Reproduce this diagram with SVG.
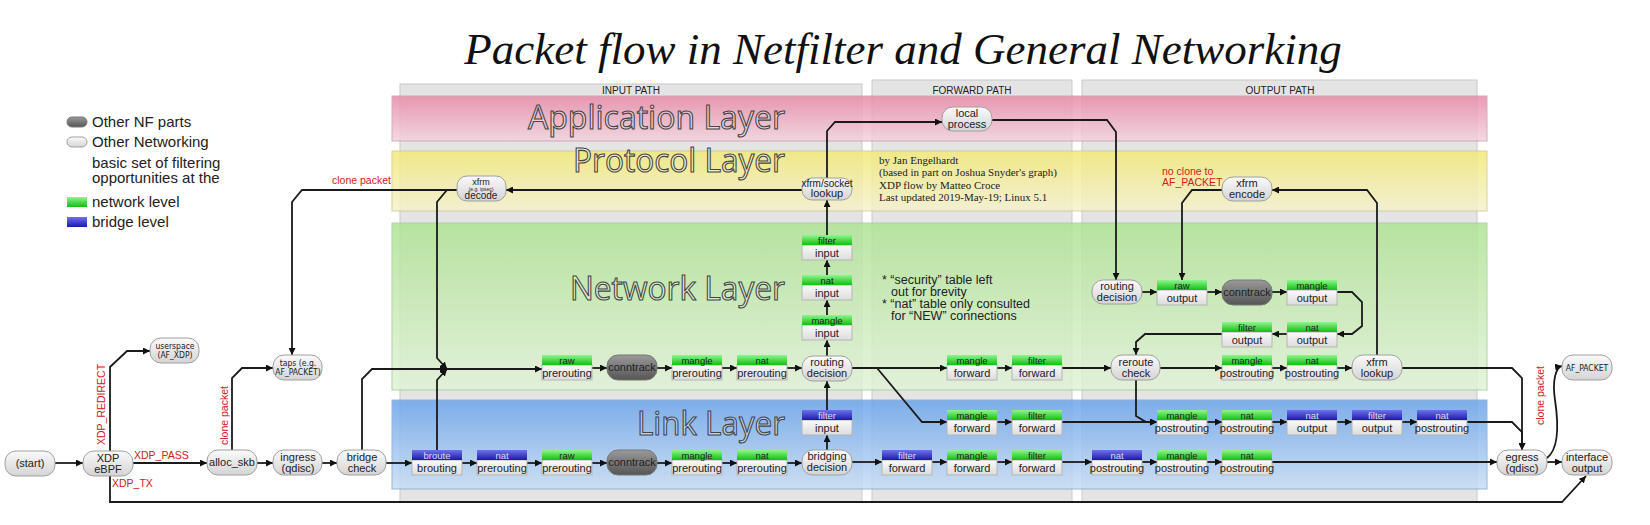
<svg xmlns="http://www.w3.org/2000/svg" width="1650" height="525" viewBox="0 0 1650 525">
<defs>
<linearGradient id="gPill" x1="0" y1="0" x2="0" y2="1"><stop offset="0" stop-color="#fafafa"/><stop offset="1" stop-color="#d4d4d4"/></linearGradient>
<linearGradient id="gDark" x1="0" y1="0" x2="0" y2="1"><stop offset="0" stop-color="#9a9a9a"/><stop offset="1" stop-color="#555"/></linearGradient>
<linearGradient id="gGreen" x1="0" y1="0" x2="0" y2="1"><stop offset="0" stop-color="#8ff58f"/><stop offset="1" stop-color="#10c010"/></linearGradient>
<linearGradient id="gBlue" x1="0" y1="0" x2="0" y2="1"><stop offset="0" stop-color="#7070f0"/><stop offset="1" stop-color="#1a1aa8"/></linearGradient>
<linearGradient id="gBody" x1="0" y1="0" x2="0" y2="1"><stop offset="0" stop-color="#fafafa"/><stop offset="1" stop-color="#dcdcdc"/></linearGradient>
<linearGradient id="gApp" x1="0" y1="0" x2="0" y2="1"><stop offset="0" stop-color="#e98aa8"/><stop offset="1" stop-color="#f2d3de"/></linearGradient>
<linearGradient id="gProto" x1="0" y1="0" x2="0" y2="1"><stop offset="0" stop-color="#f3ea78"/><stop offset="1" stop-color="#f5f2cf"/></linearGradient>
<linearGradient id="gNet" x1="0" y1="0" x2="0" y2="1"><stop offset="0" stop-color="#afe394"/><stop offset="1" stop-color="#e2f3d8"/></linearGradient>
<linearGradient id="gLink" x1="0" y1="0" x2="0" y2="1"><stop offset="0" stop-color="#6ba4ea"/><stop offset="1" stop-color="#c8def5"/></linearGradient>
<marker id="ar" viewBox="0 0 10 10" refX="10" refY="5" markerWidth="7" markerHeight="7" orient="auto" markerUnits="userSpaceOnUse"><path d="M0,0 L10,5 L0,10 z" fill="#111"/></marker>
</defs>
<style>
text{font-family:"Liberation Sans",Arial,sans-serif;fill:#222}
.pill{fill:url(#gPill);stroke:#a0a0a0;stroke-width:1}
.dark{fill:url(#gDark);stroke:#777;stroke-width:1}
.hg{fill:url(#gGreen)}
.hb{fill:url(#gBlue)}
.body{fill:url(#gBody);stroke:#b5b5b5;stroke-width:1}
.n{font-size:11px;text-anchor:middle}
.h{font-size:9.5px;text-anchor:middle}
.hbt{font-size:9.5px;text-anchor:middle;fill:#dde}
.sm{font-size:8.5px;text-anchor:middle;font-family:"Liberation Sans Narrow","DejaVu Sans Condensed",sans-serif}
.red{fill:#d02020;font-size:10.5px}
.lay{font-family:"Open Sans","DejaVu Sans",sans-serif;font-size:33px;fill:rgba(255,255,255,0.35);stroke:#444;stroke-width:1.1;text-anchor:end}
.path{font-size:10px;text-anchor:middle}
.c{fill:none;stroke:#1a1a1a;stroke-width:1.8;marker-end:url(#ar)}
.cred{font-family:"Liberation Serif",serif;font-size:11px;fill:#222}
.note{font-size:12.5px}
.leg{font-size:15px}
</style>
<rect width="1650" height="525" fill="#fff"/>
<text x="903" y="64" text-anchor="middle" style="font-family:'Liberation Serif',serif;font-style:italic;font-size:45px;fill:#111">Packet flow in Netfilter and General Networking</text>

<g id="panels">
<rect x="400" y="84" width="462" height="418" fill="#e4e4e4" stroke="#c8c8c8"/>
<rect x="872" y="80" width="200" height="422" fill="#e4e4e4" stroke="#c8c8c8"/>
<rect x="1082" y="80" width="395" height="422" fill="#e4e4e4" stroke="#c8c8c8"/>
<text class="path" x="631" y="94">INPUT PATH</text>
<text class="path" x="972" y="94">FORWARD PATH</text>
<text class="path" x="1280" y="94">OUTPUT PATH</text>
<rect x="392" y="96" width="1095" height="45" fill="url(#gApp)" opacity="0.85" stroke="#c8a0b0"/>
<rect x="392" y="151" width="1095" height="60" fill="url(#gProto)" opacity="0.85" stroke="#d0ca90"/>
<rect x="392" y="223" width="1095" height="167" fill="url(#gNet)" opacity="0.85" stroke="#a8cc98"/>
<rect x="392" y="400" width="1095" height="89" fill="url(#gLink)" opacity="0.85" stroke="#88a8d0"/>
<text class="lay" x="785" y="129" textLength="257" lengthAdjust="spacingAndGlyphs">Application Layer</text>
<text class="lay" x="785" y="172" textLength="212" lengthAdjust="spacingAndGlyphs">Protocol Layer</text>
<text class="lay" x="785" y="300" textLength="215" lengthAdjust="spacingAndGlyphs">Network Layer</text>
<text class="lay" x="785" y="435" textLength="148" lengthAdjust="spacingAndGlyphs">Link Layer</text>
</g>

<g id="legend">
<rect x="67" y="117" width="20" height="10" rx="5" class="dark"/>
<text class="leg" x="92" y="127">Other NF parts</text>
<rect x="67" y="137" width="20" height="10" rx="5" class="pill"/>
<text class="leg" x="92" y="147">Other Networking</text>
<text class="leg" x="92" y="168">basic set of filtering</text>
<text class="leg" x="92" y="183">opportunities at the</text>
<rect x="67" y="197" width="20" height="10" class="hg"/>
<text class="leg" x="92" y="207">network level</text>
<rect x="67" y="217" width="20" height="10" class="hb"/>
<text class="leg" x="92" y="227">bridge level</text>
</g>

<g id="credits">
<text class="cred" x="879" y="164">by Jan Engelhardt</text>
<text class="cred" x="879" y="176">(based in part on Joshua Snyder's graph)</text>
<text class="cred" x="879" y="189">XDP flow by Matteo Croce</text>
<text class="cred" x="879" y="201">Last updated 2019-May-19; Linux 5.1</text>
<text class="note" x="882" y="284">* “security” table left</text>
<text class="note" x="891" y="296">out for brevity</text>
<text class="note" x="882" y="308">* “nat” table only consulted</text>
<text class="note" x="891" y="320">for “NEW” connections</text>
</g>

<g id="connectors">
<path class="c" d="M55,463 H83"/>
<path class="c" d="M133,463 H207"/>
<path class="c" d="M110,451 V367 L127,351 H150"/>
<path class="c" d="M110,476 V502 H1562 L1586,476"/>
<path class="c" d="M257,463 H273"/>
<path class="c" d="M232,450 V378 L242,368 H273"/>
<path class="c" d="M322,463 H337"/>
<path class="c" d="M386,463 H412"/>
<path class="c" d="M362,450 V379 L372,369 H447"/>
<path class="c" d="M437,450 V380 L447,369"/>
<path class="c" d="M457,190 H447 L437,202 V358 L447,369"/>
<path class="c" d="M447,190 H302 L292,202 V355"/>
<path class="c" d="M447,369 H542"/>
<path class="c" d="M592,368 H607"/>
<path class="c" d="M657,368 H672"/>
<path class="c" d="M722,368 H737"/>
<path class="c" d="M787,368 H802"/>
<path class="c" d="M462,463 H477"/>
<path class="c" d="M527,463 H542"/>
<path class="c" d="M592,463 H607"/>
<path class="c" d="M657,463 H672"/>
<path class="c" d="M722,463 H737"/>
<path class="c" d="M787,463 H802"/>
<path class="c" d="M827,357 V340"/>
<path class="c" d="M827,315 V300"/>
<path class="c" d="M827,275 V260"/>
<path class="c" d="M827,235 V200"/>
<path class="c" d="M802,190 H506"/>
<path class="c" d="M827,178 V131 L835,122 H942"/>
<path class="c" d="M992,120 H1107 L1116,132 V280"/>
<path class="c" d="M852,368 H947"/>
<path class="c" d="M877,368 L922,422 H947"/>
<path class="c" d="M997,368 H1012"/>
<path class="c" d="M1062,368 H1111"/>
<path class="c" d="M997,422 H1012"/>
<path class="c" d="M1062,422 H1157"/>
<path class="c" d="M827,450 V435"/>
<path class="c" d="M827,410 V381"/>
<path class="c" d="M852,462 H882"/>
<path class="c" d="M932,462 H947"/>
<path class="c" d="M997,462 H1012"/>
<path class="c" d="M1062,462 H1092"/>
<path class="c" d="M1142,462 H1157"/>
<path class="c" d="M1207,462 H1222"/>
<path class="c" d="M1272,462 H1497"/>
<path class="c" d="M1142,292 H1157"/>
<path class="c" d="M1207,292 H1222"/>
<path class="c" d="M1272,292 H1287"/>
<path class="c" d="M1337,292 H1352 L1362,302 V326 L1352,334 H1337"/>
<path class="c" d="M1287,334 H1272"/>
<path class="c" d="M1222,334 H1145 L1136,342 V355"/>
<path class="c" d="M1160,368 H1222"/>
<path class="c" d="M1272,368 H1287"/>
<path class="c" d="M1337,368 H1352"/>
<path class="c" d="M1136,380 V416 L1146,422 H1157"/>
<path class="c" d="M1207,422 H1222"/>
<path class="c" d="M1272,422 H1287"/>
<path class="c" d="M1337,422 H1352"/>
<path class="c" d="M1402,422 H1417"/>
<path class="c" d="M1467,422 H1512 L1522,432 V450"/>
<path class="c" d="M1402,368 H1512 L1522,378 V450"/>
<path class="c" d="M1377,355 V203 L1367,190 H1272"/>
<path class="c" d="M1222,190 H1192 L1182,203 V280"/>
<path class="c" d="M1547,462 H1562"/>
<path class="c" d="M1547,458 C1560,448 1558,420 1555,400 C1552,380 1556,367 1562,366"/>
<text class="red" x="134" y="459">XDP_PASS</text>
<text class="red" x="112" y="487">XDP_TX</text>
<text class="red" transform="translate(105,445) rotate(-90)">XDP_REDIRECT</text>
<text class="red" transform="translate(228,445) rotate(-90)">clone packet</text>
<text class="red" x="332" y="184">clone packet</text>
<text class="red" transform="translate(1544,425) rotate(-90)">clone packet</text>
<text class="red" x="1162" y="175">no clone to</text>
<text class="red" x="1162" y="186">AF_PACKET</text>
</g>

<g id="start"><rect x="5" y="451" width="50" height="25" rx="11" class="pill"/><text class="n" x="30" y="467">(start)</text></g>
<g id="xdp"><rect x="83" y="451" width="50" height="25" rx="11" class="pill"/><text class="n" x="108" y="462">XDP</text><text class="n" x="108" y="473">eBPF</text></g>
<g id="userspace"><rect x="150" y="338" width="49" height="25" rx="11" class="pill"/><text class="sm" x="175" y="349">userspace</text><text class="sm" x="175" y="358">(AF_XDP)</text></g>
<g id="alloc"><rect x="207" y="450" width="50" height="25" rx="11" class="pill"/><text class="n" x="232" y="466">alloc_skb</text></g>
<g id="ingress"><rect x="273" y="450" width="49" height="25" rx="11" class="pill"/><text class="n" x="298" y="461">ingress</text><text class="n" x="298" y="472">(qdisc)</text></g>
<g id="taps"><rect x="273" y="355" width="49" height="25" rx="11" class="pill"/><text class="sm" x="298" y="366">taps (e.g.</text><text class="sm" x="298" y="375">AF_PACKET)</text></g>
<g id="bridgecheck"><rect x="337" y="450" width="49" height="25" rx="11" class="pill"/><text class="n" x="362" y="461">bridge</text><text class="n" x="362" y="472">check</text></g>
<g id="xfrmdecode"><rect x="457" y="176" width="49" height="25" rx="10" class="pill"/><text x="481" y="185" text-anchor="middle" style="font-size:9px">xfrm</text><text x="481" y="191" text-anchor="middle" style="font-size:5px">(e.g. ipsec)</text><text x="481" y="199" text-anchor="middle" style="font-size:10px">decode</text></g>
<g id="conntrack1"><rect x="607" y="355" width="50" height="25" rx="11" class="dark"/><text class="n" x="632" y="371">conntrack</text></g>
<g id="conntrack2"><rect x="607" y="450" width="50" height="25" rx="11" class="dark"/><text class="n" x="632" y="466">conntrack</text></g>
<g id="routing1"><rect x="802" y="356" width="50" height="25" rx="11" class="pill"/><text class="n" x="827" y="366">routing</text><text class="n" x="827" y="377">decision</text></g>
<g id="bridging"><rect x="802" y="450" width="50" height="25" rx="11" class="pill"/><text class="n" x="827" y="460">bridging</text><text class="n" x="827" y="471">decision</text></g>
<g id="socklookup"><rect x="802" y="178" width="50" height="22" rx="10" class="pill"/><text class="n" x="827" y="187" style="font-size:10px">xfrm/socket</text><text class="n" x="827" y="197">lookup</text></g>
<g id="localproc"><rect x="942" y="107" width="50" height="24" rx="11" class="pill"/><text class="n" x="967" y="117">local</text><text class="n" x="967" y="128">process</text></g>
<g id="routing2"><rect x="1092" y="280" width="50" height="24" rx="11" class="pill"/><text class="n" x="1117" y="290">routing</text><text class="n" x="1117" y="301">decision</text></g>
<g id="conntrack3"><rect x="1222" y="280" width="50" height="25" rx="11" class="dark"/><text class="n" x="1247" y="296">conntrack</text></g>
<g id="xfrmencode"><rect x="1222" y="177" width="50" height="24" rx="11" class="pill"/><text class="n" x="1247" y="187">xfrm</text><text class="n" x="1247" y="198">encode</text></g>
<g id="reroute"><rect x="1111" y="355" width="49" height="25" rx="11" class="pill"/><text class="n" x="1136" y="366">reroute</text><text class="n" x="1136" y="377">check</text></g>
<g id="xfrmlookup"><rect x="1352" y="355" width="50" height="25" rx="11" class="pill"/><text class="n" x="1377" y="366">xfrm</text><text class="n" x="1377" y="377">lookup</text></g>
<g id="egress"><rect x="1497" y="450" width="50" height="25" rx="11" class="pill"/><text class="n" x="1522" y="461">egress</text><text class="n" x="1522" y="472">(qdisc)</text></g>
<g id="ifout"><rect x="1562" y="450" width="50" height="25" rx="11" class="pill"/><text class="n" x="1587" y="461">interface</text><text class="n" x="1587" y="472">output</text></g>
<g id="afpacket"><rect x="1562" y="355" width="50" height="25" rx="11" class="pill"/><text class="sm" x="1587" y="371">AF_PACKET</text></g>

<g id="t1"><rect x="542" y="365" width="50" height="15" class="body"/><rect x="542" y="355" width="50" height="10" class="hg"/><text class="h" x="567" y="363.5">raw</text><text class="n" x="567" y="377">prerouting</text></g>
<g id="t2"><rect x="672" y="365" width="50" height="15" class="body"/><rect x="672" y="355" width="50" height="10" class="hg"/><text class="h" x="697" y="363.5">mangle</text><text class="n" x="697" y="377">prerouting</text></g>
<g id="t3"><rect x="737" y="365" width="50" height="15" class="body"/><rect x="737" y="355" width="50" height="10" class="hg"/><text class="h" x="762" y="363.5">nat</text><text class="n" x="762" y="377">prerouting</text></g>
<g id="t4"><rect x="802" y="325" width="50" height="15" class="body"/><rect x="802" y="315" width="50" height="10" class="hg"/><text class="h" x="827" y="323.5">mangle</text><text class="n" x="827" y="337">input</text></g>
<g id="t5"><rect x="802" y="285" width="50" height="15" class="body"/><rect x="802" y="275" width="50" height="10" class="hg"/><text class="h" x="827" y="283.5">nat</text><text class="n" x="827" y="297">input</text></g>
<g id="t6"><rect x="802" y="245" width="50" height="15" class="body"/><rect x="802" y="235" width="50" height="10" class="hg"/><text class="h" x="827" y="243.5">filter</text><text class="n" x="827" y="257">input</text></g>
<g id="t7"><rect x="412" y="460" width="50" height="15" class="body"/><rect x="412" y="450" width="50" height="10" class="hb"/><text class="hbt" x="437" y="458.5">broute</text><text class="n" x="437" y="472">brouting</text></g>
<g id="t8"><rect x="477" y="460" width="50" height="15" class="body"/><rect x="477" y="450" width="50" height="10" class="hb"/><text class="hbt" x="502" y="458.5">nat</text><text class="n" x="502" y="472">prerouting</text></g>
<g id="t9"><rect x="542" y="460" width="50" height="15" class="body"/><rect x="542" y="450" width="50" height="10" class="hg"/><text class="h" x="567" y="458.5">raw</text><text class="n" x="567" y="472">prerouting</text></g>
<g id="t10"><rect x="672" y="460" width="50" height="15" class="body"/><rect x="672" y="450" width="50" height="10" class="hg"/><text class="h" x="697" y="458.5">mangle</text><text class="n" x="697" y="472">prerouting</text></g>
<g id="t11"><rect x="737" y="460" width="50" height="15" class="body"/><rect x="737" y="450" width="50" height="10" class="hg"/><text class="h" x="762" y="458.5">nat</text><text class="n" x="762" y="472">prerouting</text></g>
<g id="t12"><rect x="802" y="420" width="50" height="15" class="body"/><rect x="802" y="410" width="50" height="10" class="hb"/><text class="hbt" x="827" y="418.5">filter</text><text class="n" x="827" y="432">input</text></g>
<g id="t13"><rect x="947" y="365" width="50" height="15" class="body"/><rect x="947" y="355" width="50" height="10" class="hg"/><text class="h" x="972" y="363.5">mangle</text><text class="n" x="972" y="377">forward</text></g>
<g id="t14"><rect x="1012" y="365" width="50" height="15" class="body"/><rect x="1012" y="355" width="50" height="10" class="hg"/><text class="h" x="1037" y="363.5">filter</text><text class="n" x="1037" y="377">forward</text></g>
<g id="t15"><rect x="947" y="420" width="50" height="15" class="body"/><rect x="947" y="410" width="50" height="10" class="hg"/><text class="h" x="972" y="418.5">mangle</text><text class="n" x="972" y="432">forward</text></g>
<g id="t16"><rect x="1012" y="420" width="50" height="15" class="body"/><rect x="1012" y="410" width="50" height="10" class="hg"/><text class="h" x="1037" y="418.5">filter</text><text class="n" x="1037" y="432">forward</text></g>
<g id="t17"><rect x="882" y="460" width="50" height="15" class="body"/><rect x="882" y="450" width="50" height="10" class="hb"/><text class="hbt" x="907" y="458.5">filter</text><text class="n" x="907" y="472">forward</text></g>
<g id="t18"><rect x="947" y="460" width="50" height="15" class="body"/><rect x="947" y="450" width="50" height="10" class="hg"/><text class="h" x="972" y="458.5">mangle</text><text class="n" x="972" y="472">forward</text></g>
<g id="t19"><rect x="1012" y="460" width="50" height="15" class="body"/><rect x="1012" y="450" width="50" height="10" class="hg"/><text class="h" x="1037" y="458.5">filter</text><text class="n" x="1037" y="472">forward</text></g>
<g id="t20"><rect x="1157" y="290" width="50" height="15" class="body"/><rect x="1157" y="280" width="50" height="10" class="hg"/><text class="h" x="1182" y="288.5">raw</text><text class="n" x="1182" y="302">output</text></g>
<g id="t21"><rect x="1287" y="290" width="50" height="15" class="body"/><rect x="1287" y="280" width="50" height="10" class="hg"/><text class="h" x="1312" y="288.5">mangle</text><text class="n" x="1312" y="302">output</text></g>
<g id="t22"><rect x="1287" y="332" width="50" height="15" class="body"/><rect x="1287" y="322" width="50" height="10" class="hg"/><text class="h" x="1312" y="330.5">nat</text><text class="n" x="1312" y="344">output</text></g>
<g id="t23"><rect x="1222" y="332" width="50" height="15" class="body"/><rect x="1222" y="322" width="50" height="10" class="hg"/><text class="h" x="1247" y="330.5">filter</text><text class="n" x="1247" y="344">output</text></g>
<g id="t24"><rect x="1222" y="365" width="50" height="15" class="body"/><rect x="1222" y="355" width="50" height="10" class="hg"/><text class="h" x="1247" y="363.5">mangle</text><text class="n" x="1247" y="377">postrouting</text></g>
<g id="t25"><rect x="1287" y="365" width="50" height="15" class="body"/><rect x="1287" y="355" width="50" height="10" class="hg"/><text class="h" x="1312" y="363.5">nat</text><text class="n" x="1312" y="377">postrouting</text></g>
<g id="t26"><rect x="1157" y="420" width="50" height="15" class="body"/><rect x="1157" y="410" width="50" height="10" class="hg"/><text class="h" x="1182" y="418.5">mangle</text><text class="n" x="1182" y="432">postrouting</text></g>
<g id="t27"><rect x="1222" y="420" width="50" height="15" class="body"/><rect x="1222" y="410" width="50" height="10" class="hg"/><text class="h" x="1247" y="418.5">nat</text><text class="n" x="1247" y="432">postrouting</text></g>
<g id="t28"><rect x="1287" y="420" width="50" height="15" class="body"/><rect x="1287" y="410" width="50" height="10" class="hb"/><text class="hbt" x="1312" y="418.5">nat</text><text class="n" x="1312" y="432">output</text></g>
<g id="t29"><rect x="1352" y="420" width="50" height="15" class="body"/><rect x="1352" y="410" width="50" height="10" class="hb"/><text class="hbt" x="1377" y="418.5">filter</text><text class="n" x="1377" y="432">output</text></g>
<g id="t30"><rect x="1417" y="420" width="50" height="15" class="body"/><rect x="1417" y="410" width="50" height="10" class="hb"/><text class="hbt" x="1442" y="418.5">nat</text><text class="n" x="1442" y="432">postrouting</text></g>
<g id="t31"><rect x="1092" y="460" width="50" height="15" class="body"/><rect x="1092" y="450" width="50" height="10" class="hb"/><text class="hbt" x="1117" y="458.5">nat</text><text class="n" x="1117" y="472">postrouting</text></g>
<g id="t32"><rect x="1157" y="460" width="50" height="15" class="body"/><rect x="1157" y="450" width="50" height="10" class="hg"/><text class="h" x="1182" y="458.5">mangle</text><text class="n" x="1182" y="472">postrouting</text></g>
<g id="t33"><rect x="1222" y="460" width="50" height="15" class="body"/><rect x="1222" y="450" width="50" height="10" class="hg"/><text class="h" x="1247" y="458.5">nat</text><text class="n" x="1247" y="472">postrouting</text></g>
</svg>
